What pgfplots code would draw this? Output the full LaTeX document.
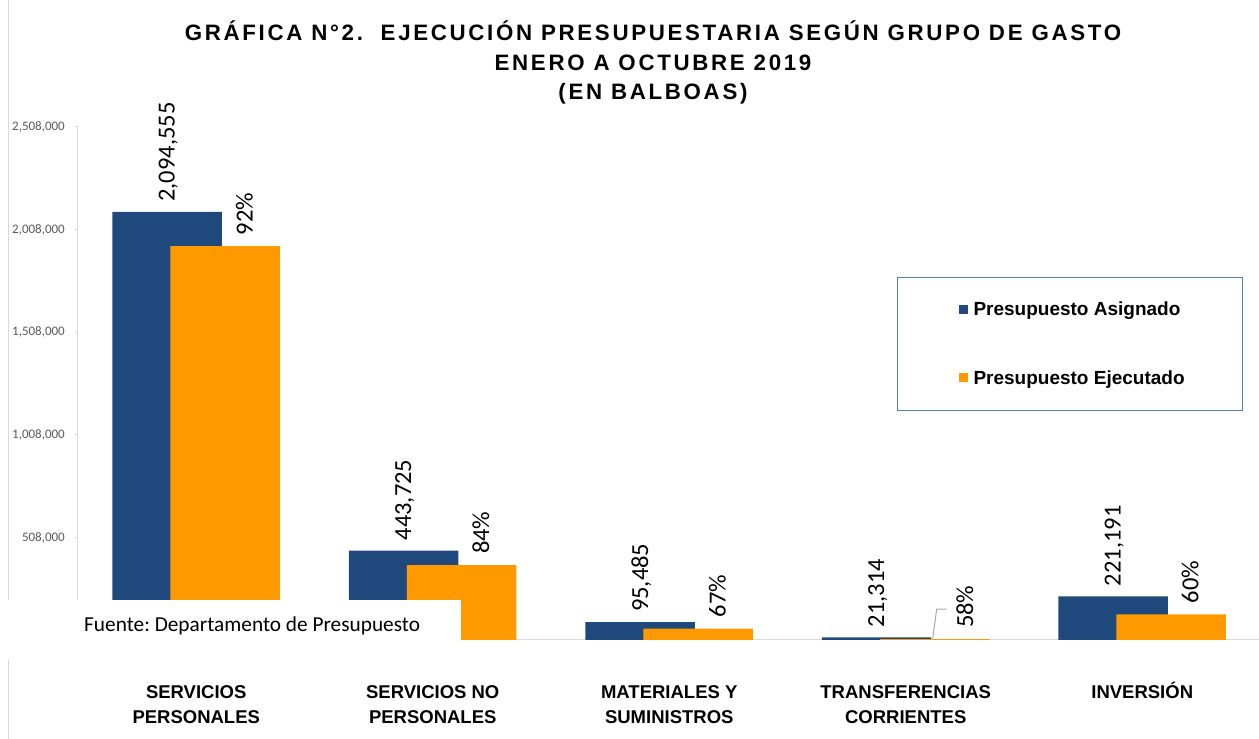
\documentclass[border=0pt]{standalone}
\usepackage{pgfplots}
\usepackage{pgfplotstable}
\pgfplotsset{compat=1.18}
\usepackage{fontspec}
\setmainfont{Liberation Sans}
\newfontfamily\calfont{Carlito}
\newfontfamily\titlefont{Liberation Sans}[LetterSpace=12]
\definecolor{asig}{RGB}{31,73,125}
\definecolor{ejec}{RGB}{255,153,0}
\definecolor{legbd}{RGB}{79,129,189}
\definecolor{axgray}{RGB}{217,217,217}
\definecolor{tickgray}{RGB}{89,89,89}
\frenchspacing

\pgfplotstableread{
x y lab
0 2094555 2,094,555
1 443725 443,725
2 95485 95,485
3 21314 21,314
4 221191 221,191
}\asigtab

\pgfplotstableread{
x y lab
0 1926990 92\%
1 372729 84\%
2 63975 67\%
3 12362 {}
4 132715 60\%
}\ejectab

\begin{document}
\begin{tikzpicture}[x=1pt,y=1pt]
\useasboundingbox (0,0) rectangle (1259,739);
\draw[axgray, line width=1pt] (8,0) -- (8,739);
% title
\node[anchor=base, inner sep=0pt, font=\titlefont\bfseries\fontsize{22.3}{26}\selectfont] at (653,698) {GRÁFICA N°2.\ \ EJECUCIÓN PRESUPUESTARIA SEGÚN GRUPO DE GASTO};
\node[anchor=base, inner sep=0pt, font=\titlefont\bfseries\fontsize{22.3}{26}\selectfont] at (653,668.5) {ENERO A OCTUBRE 2019};
\node[anchor=base, inner sep=0pt, font=\titlefont\bfseries\fontsize{22.3}{26}\selectfont] at (653,639) {(EN BALBOAS)};
\begin{axis}[
  at={(78pt,99pt)}, anchor=south west, scale only axis,
  width=1181pt, height=513pt,
  xmin=-0.5, xmax=4.4937, ymin=8000, ymax=2508000,
  clip=false,
  scaled y ticks=false,
  axis x line*=bottom, axis y line*=left,
  axis line style={-, draw=axgray, line width=1pt},
  xtick={0,1,2,3,4},
  xticklabels={{\vphantom{Ó}SERVICIOS\\PERSONALES},{\vphantom{Ó}SERVICIOS NO\\PERSONALES},{\vphantom{Ó}MATERIALES Y\\SUMINISTROS},{\vphantom{Ó}TRANSFERENCIAS\\CORRIENTES},{INVERSIÓN}},
  xticklabel style={font=\bfseries\fontsize{18.5}{25}\selectfont, align=center, anchor=north, inner sep=0pt, yshift=-39pt},
  xtick style={draw=none},
  ytick={508000,1008000,1508000,2008000,2508000},
  yticklabels={{508,000},{1,008,000},{1,508,000},{2,008,000},{2,508,000}},
  ytick style={draw=axgray, line width=1pt},
  tick align=outside, major tick length=3pt,
  yticklabel style={font=\calfont\fontsize{13}{15}\selectfont, text=tickgray, inner sep=0pt, anchor=east, xshift=-10pt},
  legend style={at={(0.6935,0.7076)}, anchor=north west, draw=legbd, line width=1pt,
    font=\bfseries\fontsize{19}{22}\selectfont, inner xsep=56pt, inner ysep=22.5pt, row sep=49pt,
    /tikz/every odd column/.append style={column sep=4pt}},
  legend cell align=left,
]
\addplot[ybar, bar width=109.5pt, bar shift=-29pt, fill=asig, draw=none,
  point meta=explicit symbolic, nodes near coords,
  nodes near coords style={font=\calfont\fontsize{24.5}{26}\selectfont, text=black, yshift=10pt, xshift=-28pt, rotate=90, anchor=west, inner sep=0pt},
  legend image code/.code={\path (0pt,0pt); \fill[asig] (5pt,-4.5pt) rectangle (14pt,4.5pt);}]
  table[x=x, y=y, meta=lab] {\asigtab};
\addplot[ybar, bar width=109.5pt, bar shift=29pt, fill=ejec, draw=none,
  point meta=explicit symbolic, nodes near coords,
  nodes near coords style={font=\calfont\fontsize{24.5}{26}\selectfont, text=black, yshift=11pt, xshift=48pt, rotate=90, anchor=west, inner sep=0pt},
  legend image code/.code={\path (0pt,0pt); \fill[ejec] (5pt,-4.5pt) rectangle (14pt,4.5pt);}]
  table[x=x, y=y, meta=lab] {\ejectab};
\legend{Presupuesto Asignado, Presupuesto Ejecutado}
\draw[gray!70, line width=1pt] ([xshift=27pt,yshift=1pt]axis cs:3,12362) -- ++(4pt,29pt) -- ++(10pt,0pt);
\node[font=\calfont\fontsize{24.5}{26}\selectfont, inner sep=0pt, rotate=90, anchor=west] at ([xshift=59pt,yshift=11pt]axis cs:3,12362) {58\%};
\end{axis}
\fill[white] (0,79) rectangle (461,139);
\node[anchor=base west, inner sep=0pt, font=\calfont\fontsize{21.3}{24}\selectfont] at (84,107) {Fuente: Departamento de Presupuesto};
\end{tikzpicture}
\end{document}
